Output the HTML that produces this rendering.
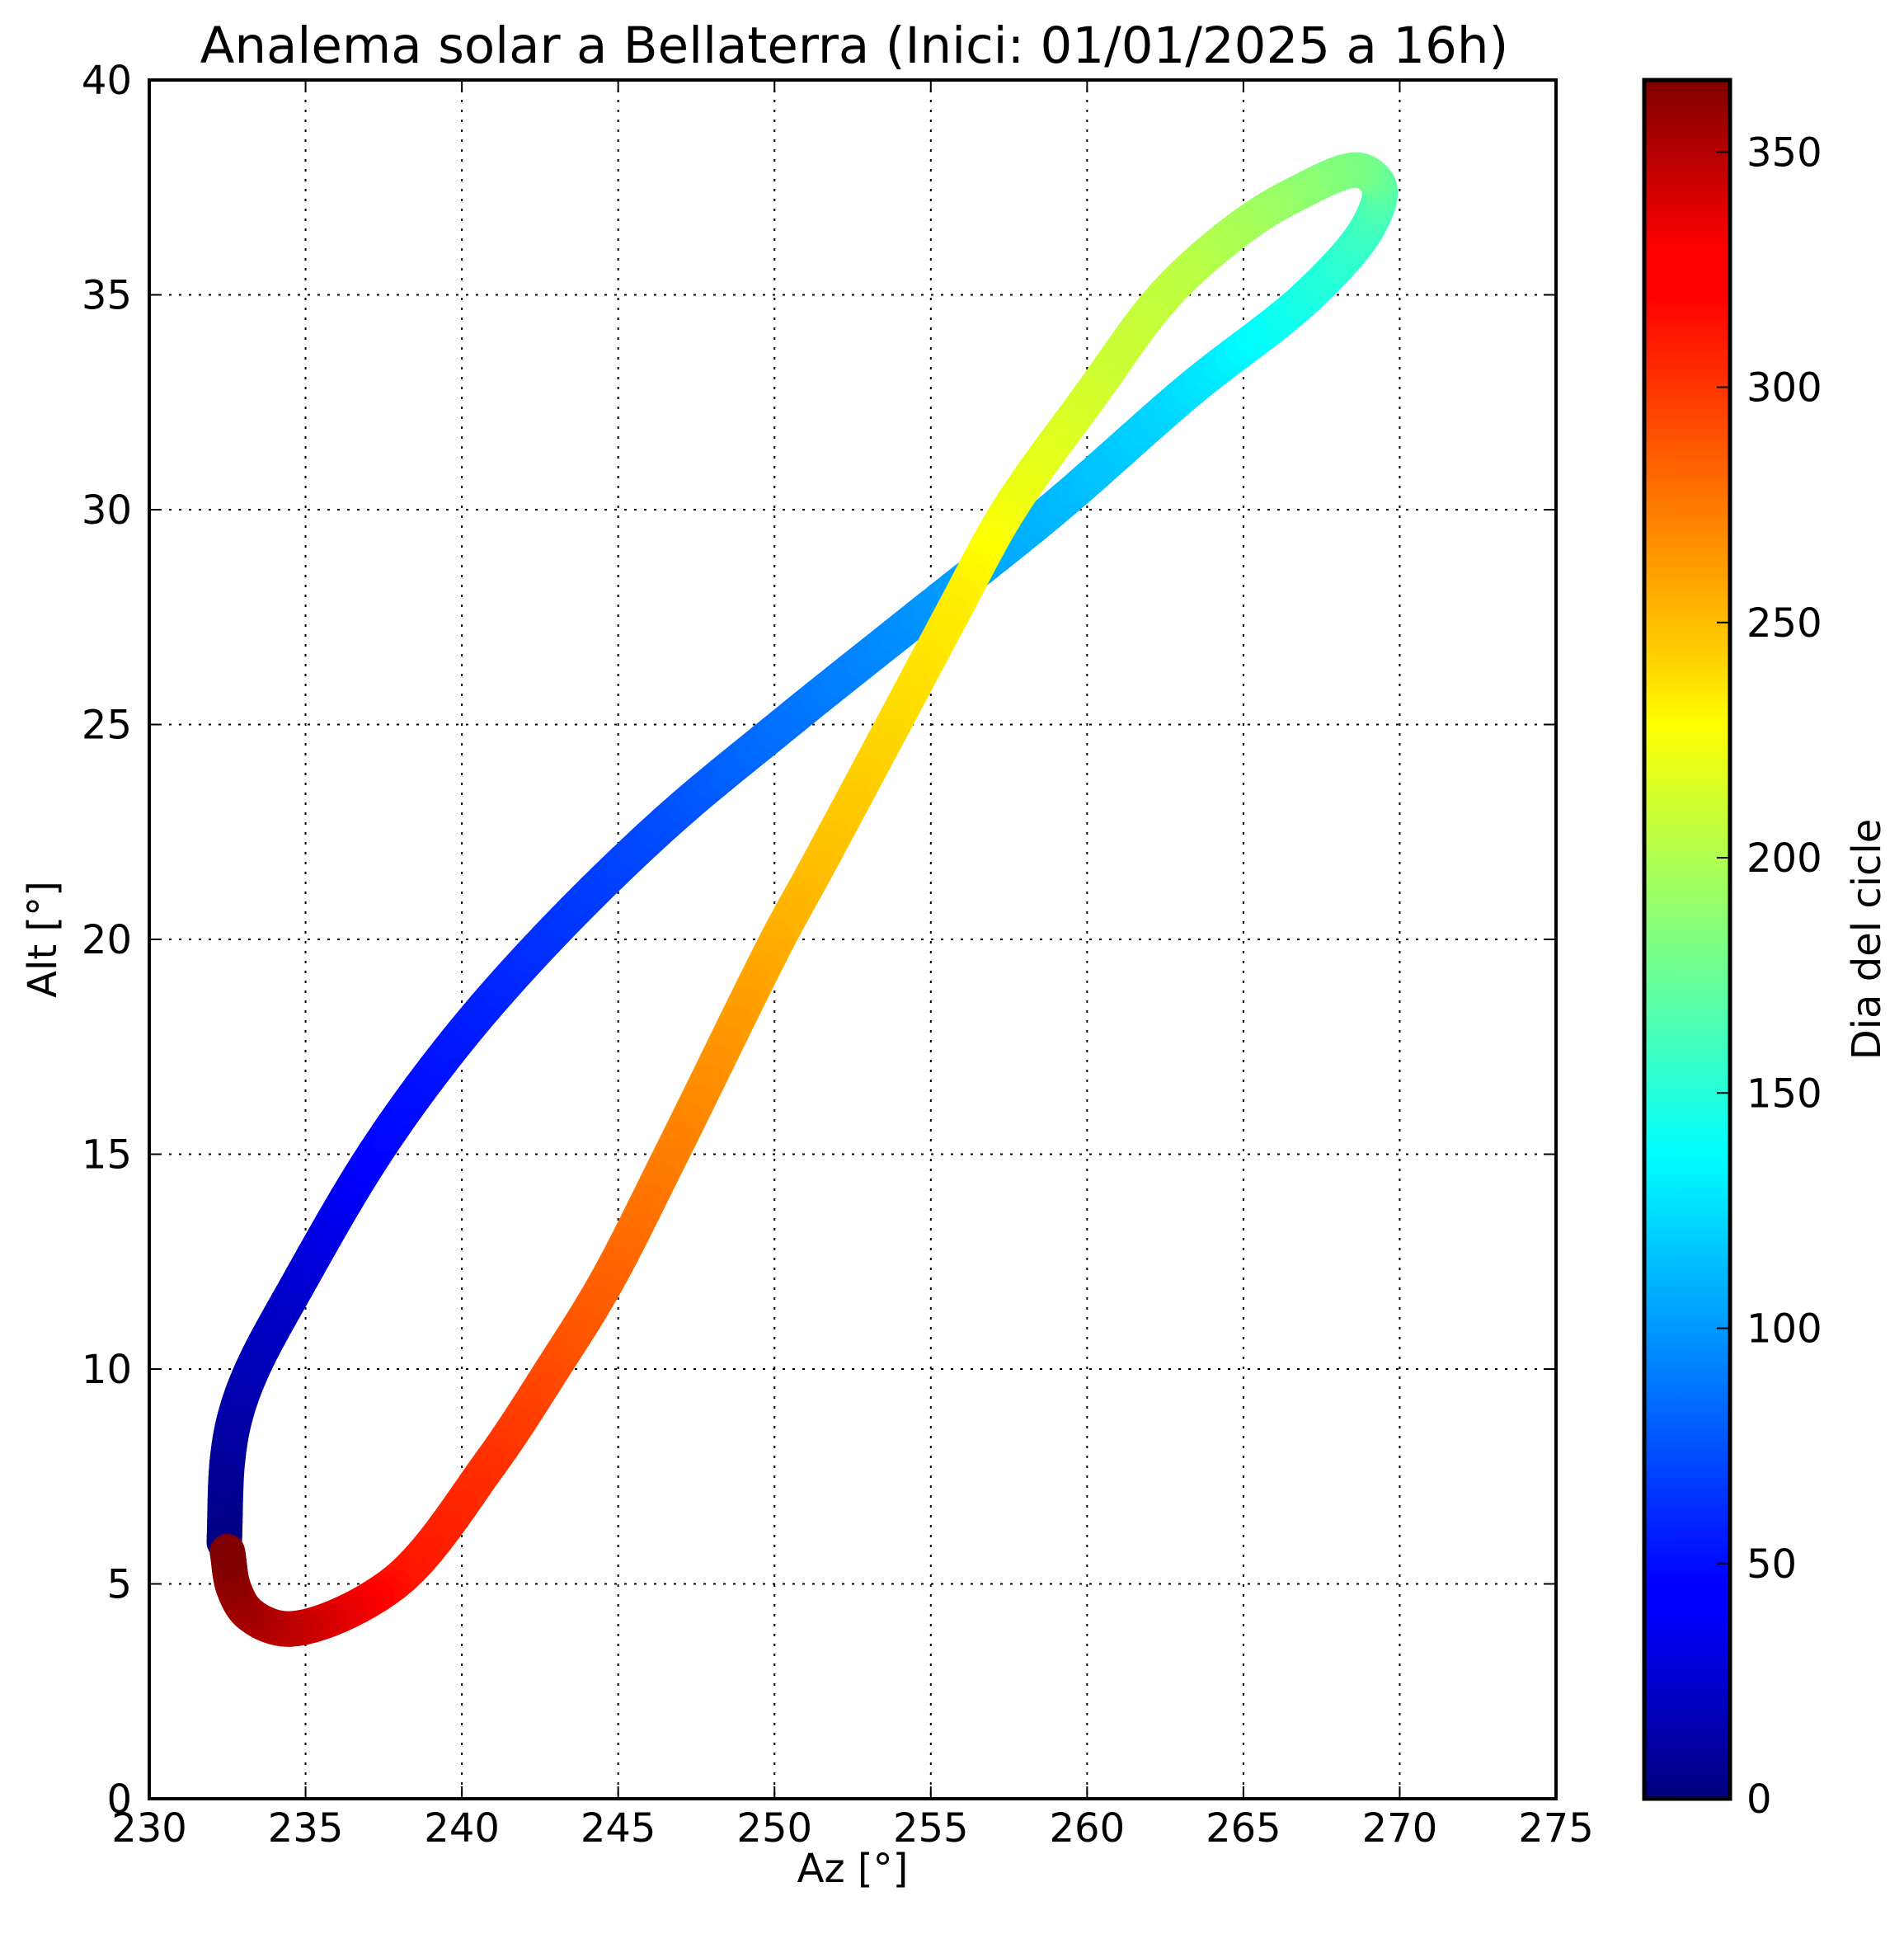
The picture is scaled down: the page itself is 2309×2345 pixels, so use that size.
<!DOCTYPE html>
<html><head><meta charset="utf-8"><style>
html,body{margin:0;padding:0;background:#fff}
svg{display:block}
text{font-family:"DejaVu Sans","Liberation Sans",sans-serif;fill:#000}
</style></head><body>
<svg id="chart" width="2309" height="2345" viewBox="0 0 2309 2345" xmlns="http://www.w3.org/2000/svg">
<defs>
<linearGradient id="jet" x1="0" y1="1" x2="0" y2="0">
<stop offset="0" stop-color="#00007f"/><stop offset="0.11" stop-color="#0000ff"/><stop offset="0.125" stop-color="#0000ff"/>
<stop offset="0.34" stop-color="#00dcff"/><stop offset="0.375" stop-color="#00ffff"/>
<stop offset="0.5" stop-color="#80ff80"/><stop offset="0.625" stop-color="#ffff00"/>
<stop offset="0.66" stop-color="#ffd500"/><stop offset="0.875" stop-color="#ff0000"/>
<stop offset="0.9" stop-color="#ff0000"/><stop offset="1" stop-color="#7f0000"/>
</linearGradient>
<clipPath id="plotclip"><rect x="181" y="97" width="1706" height="2084"/></clipPath>
</defs>
<text x="1036" y="76" font-size="61" text-anchor="middle">Analema solar a Bellaterra (Inici: 01/01/2025 a 16h)</text>
<g id="grid"></g>
<g id="series" clip-path="url(#plotclip)"></g>
<rect x="181" y="97" width="1706" height="2084" fill="none" stroke="#000" stroke-width="4"/>
<g id="ticks"></g>
<text x="1034" y="2282" font-size="48" text-anchor="middle">Az [°]</text>
<text transform="translate(68,1139) rotate(-90)" font-size="48" text-anchor="middle">Alt [°]</text>
<rect x="1994" y="97" width="104" height="2084" fill="url(#jet)" stroke="#000" stroke-width="5"/>
<g id="cbticks"></g>
<text transform="translate(2280,1139) rotate(-90)" font-size="48" text-anchor="middle">Dia del cicle</text>
</svg>
<script>
const days = [0,8,13,18,26,46,53,62,72,85,97,110,124,145,158,168,178,188,196,205,211,222,234,241,251,256,273,284,291,301,312,340,350,357,365];
const azValues = [232.4,232.5,232.75,233.3,234.7,237.2,239.8,242.7,246.5,250.3,254.6,258.9,263.3,267.1,269.0,269.35,268.7,266.55,264.8,262.5,260.1,257.5,255.7,253.8,251.3,250.1,246.7,244.6,242.9,240.9,237.8,234.5,233.2,232.7,232.5];
const altValues = [5.97,7.86,8.9,10.0,11.9,15.0,17.6,20.0,22.7,25.0,27.5,30.0,32.8,35.0,36.6,37.5,37.9,37.3,36.5,35.0,32.65,30.0,27.6,25.0,21.6,20.0,15.0,12.0,10.0,7.8,5.0,3.95,4.3,4.9,5.75];
const xTicks = [230,235,240,245,250,255,260,265,270,275];
const yTicks = [0,5,10,15,20,25,30,35,40];
const cbTicks = [0,50,100,150,200,250,300,350];
const cbMax = 365.3;

const X0=181,X1=1887,Y0=2181,Y1=97;
const xs = v => X0 + (v-230)/45*(X1-X0);
const ys = v => Y0 - v/40*(Y0-Y1);
const cy = v => 2181 - v/cbMax*2084;
const NS="http://www.w3.org/2000/svg";
function mk(tag,attrs,parent){const e=document.createElementNS(NS,tag);for(const k in attrs)e.setAttribute(k,attrs[k]);parent.appendChild(e);return e;}
function jet(t){const c=v=>Math.round(255*Math.max(0,Math.min(1,v)));return `rgb(${c(1.5-Math.abs(4*t-3))},${c(1.5-Math.abs(4*t-2))},${c(1.5-Math.abs(4*t-1))})`;}

const grid=document.getElementById('grid'), ticks=document.getElementById('ticks');
xTicks.forEach(v=>{
  const x=xs(v);
  if(v>230&&v<275){const l=mk('line',{x1:x,y1:Y1,x2:x,y2:Y0,stroke:'#000','stroke-width':2,'stroke-dasharray':'3 9'},grid);
  
  }
  mk('line',{x1:x,y1:Y0,x2:x,y2:Y0-15,stroke:'#000','stroke-width':2},ticks);
  mk('line',{x1:x,y1:Y1,x2:x,y2:Y1+15,stroke:'#000','stroke-width':2},ticks);
  const t=mk('text',{x:x,y:2233,'font-size':48,'text-anchor':'middle'},ticks);t.textContent=v;
  
  
});
yTicks.forEach(v=>{
  const y=ys(v);
  if(v>0&&v<40){const l=mk('line',{x1:X0,y1:y,x2:X1,y2:y,stroke:'#000','stroke-width':2,'stroke-dasharray':'3 9'},grid);
  
  }
  mk('line',{x1:X0,y1:y,x2:X0+15,y2:y,stroke:'#000','stroke-width':2},ticks);
  mk('line',{x1:X1,y1:y,x2:X1-15,y2:y,stroke:'#000','stroke-width':2},ticks);
  const t=mk('text',{x:160,y:y+17,'font-size':48,'text-anchor':'end'},ticks);t.textContent=v;
  
  
});
const cbt=document.getElementById('cbticks');
cbTicks.forEach(v=>{
  const y=cy(v);
  mk('line',{x1:2082,y1:y,x2:2098,y2:y,stroke:'#000','stroke-width':2},cbt);
  const t=mk('text',{x:2118,y:y+17,'font-size':48},cbt);t.textContent=v;
  
  
});

const ser=document.getElementById('series');
const P=days.map((d,i)=>({d:d,x:xs(azValues[i]),y:ys(altValues[i])}));
const SUB=12;
let prev=null;
function tj(ti,a,b){return ti+Math.pow(Math.hypot(b.x-a.x,b.y-a.y),0.5)+1e-6;}
for(let i=0;i<P.length-1;i++){
  const p1=P[i],p2=P[i+1];
  const p0=i>0?P[i-1]:{x:2*p1.x-p2.x,y:2*p1.y-p2.y};
  const p3=i<P.length-2?P[i+2]:{x:2*p2.x-p1.x,y:2*p2.y-p1.y};
  const t0=0,t1=tj(t0,p0,p1),t2=tj(t1,p1,p2),t3=tj(t2,p2,p3);
  for(let s=0;s<=SUB;s++){
    const t=t1+(t2-t1)*s/SUB;
    const L=(a,b,ta,tb)=>({x:(tb-t)/(tb-ta)*a.x+(t-ta)/(tb-ta)*b.x,y:(tb-t)/(tb-ta)*a.y+(t-ta)/(tb-ta)*b.y});
    const A1=L(p0,p1,t0,t1),A2=L(p1,p2,t1,t2),A3=L(p2,p3,t2,t3);
    const B1=L(A1,A2,t0,t2),B2=L(A2,A3,t1,t3);
    const C=L(B1,B2,t1,t2);
    const pt={x:C.x,y:C.y,d:p1.d+(p2.d-p1.d)*s/SUB};
    if(prev){
      const seg=mk('line',{x1:prev.x,y1:prev.y,x2:pt.x,y2:pt.y,stroke:jet(pt.d/cbMax),'stroke-width':43,'stroke-linecap':'round'},ser);
      
      
    }
    prev=pt;
  }
}
</script>
</body></html>
